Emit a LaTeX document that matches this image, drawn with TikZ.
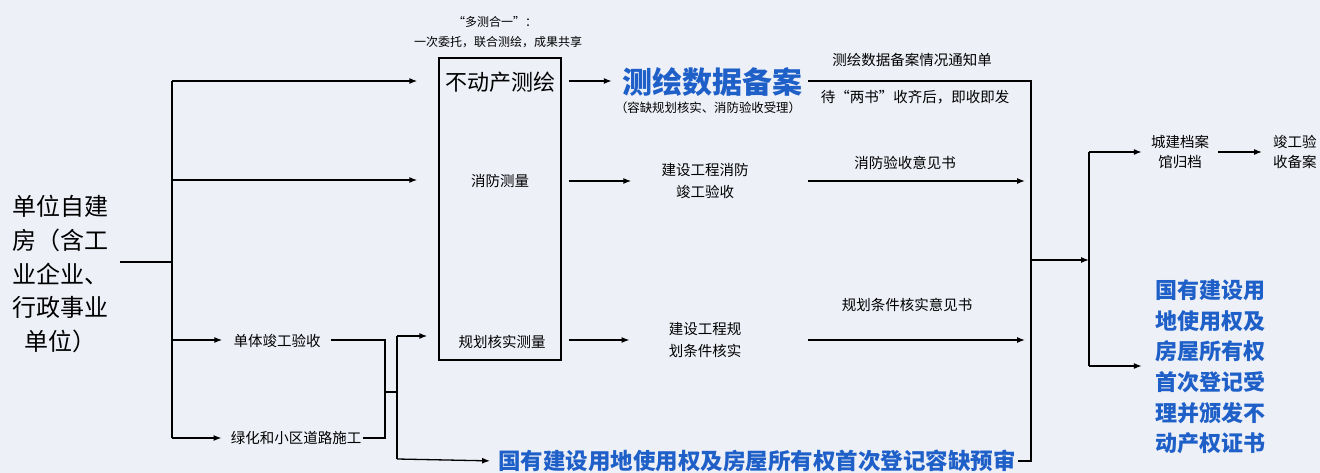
\documentclass[tikz,border=0pt]{standalone}
\usepackage{fontspec}
\setmainfont{Noto Sans CJK SC}
\usepackage{tikz}
\usetikzlibrary{arrows.meta, positioning}
\definecolor{paper}{RGB}{238,240,248}
\definecolor{regblue}{RGB}{30,96,200}

\begin{document}
\begin{tikzpicture}[x=1pt,y=-1pt]
            \useasboundingbox (0,0) rectangle (1320,473);
            \fill[paper] (0,0) rectangle (1320,473);

            \begin{scope}[every node/.style={inner sep=2pt,align=center,font=\fontsize{14.5}{22}\selectfont}]
                \node[align=left, anchor=west, font=\fontsize{24}{33.7}\selectfont] (unit) at (10,274) {单位自建\\房（含工\\业企业、\\行政事业\\\hspace*{12pt}单位）};
                \node[draw, line width=1.3pt, minimum width=122, minimum height=302] (box) at (500,209) {};
                \node[font=\fontsize{22}{26}\selectfont] (chsurv) at (500,82) {不动产测绘};
                \node (xfcl) at (500,181) {消防测量};
                \node (ghcl) at (502,342) {规划核实测量};
                \node[font=\fontsize{12}{16}\selectfont] (duoce) at (495,22) {“多测合一”：};
                \node[font=\fontsize{12}{16}\selectfont] (weituo) at (498,42) {一次委托，联合测绘，成果共享};
                \node[font=\bfseries\fontsize{30}{34}\selectfont, text=regblue] (beian) at (712,82) {测绘数据备案};
                \node[font=\fontsize{12.4}{16}\selectfont] (rongque) at (708,108) {（容缺规划核实、消防验收受理）};
                \node (xfys) at (705,181) {建设工程消防\\竣工验收};
                \node (ghhs) at (705,340) {建设工程规\\划条件核实};
                \node (dtys) at (277,341) {单体竣工验收};
                \node (lhdl) at (296,438) {绿化和小区道路施工};
                \node[font=\bfseries\fontsize{22.5}{26}\selectfont, text=regblue] (yushen) at (757,461) {国有建设用地使用权及房屋所有权首次登记容缺预审};
                \node (tzd) at (912,60) {测绘数据备案情况通知单};
                \node (liangshu) at (915,97) {待“两书”收齐后，即收即发};
                \node (xfyj) at (905,163) {消防验收意见书};
                \node (ghyj) at (907,305) {规划条件核实意见书};
                \node[font=\fontsize{14.5}{20}\selectfont] (cjda) at (1180,152) {城建档案\\馆归档};
                \node[anchor=west, font=\fontsize{14.5}{20}\selectfont] (jgba) at (1271,152) {竣工验\\收备案};
                \node[font=\bfseries\fontsize{22}{30.6}\selectfont, text=regblue] (djfz) at (1210,367) {国有建设用\\地使用权及\\房屋所有权\\首次登记受\\理并颁发不\\动产权证书};
            \end{scope}

            % junctions
            \coordinate (stub) at (120,262);
            \coordinate (tTop) at (172,81);
            \coordinate (tMid) at (172,262);
            \coordinate (tTwo) at (172,180);
            \coordinate (tLow) at (172,340);
            \coordinate (tBot) at (172,438);
            \coordinate (join) at (385,392);
            \coordinate (mg) at (397,392);
            \coordinate (mgT) at (397,336);
            \coordinate (mgB) at (397,459);
            \coordinate (rTop) at (1031,81);
            \coordinate (rMid) at (1031,260);
            \coordinate (rBot) at (1031,461);
            \coordinate (fork) at (1089,260);
            \coordinate (fTop) at (1089,152);
            \coordinate (fBot) at (1089,366);
            \coordinate (xfout) at (808,181);
            \coordinate (ghout) at (808,340);

            \begin{scope}[>={Latex[length=8pt,width=6pt]},
                          every edge/.style={draw=black, line width=1.3pt}]
                \draw[line width=1.3pt] (stub) -- (tMid);
                \draw[line width=1.3pt] (tTop) -- (tBot);
                \path[->] (tTop) edge[shorten >=21pt] (box.west |- tTop);
                \path[->] (tTwo) edge[shorten >=21pt] (box.west |- tTwo);
                \path[->] (tLow) edge[shorten >=9pt] (dtys.west |- tLow);
                \path[->] (tBot) edge[shorten >=7pt] (lhdl.west);
                \draw[line width=1.3pt, shorten <=8pt] (dtys.east |- tLow) -| (join);
                \draw[line width=1.3pt] (lhdl.east) -| (join);
                \draw[line width=1.3pt] (join) -- (mg);
                \draw[line width=1.3pt] (mgT) -- (mgB);
                \path[->] (mgT) edge[shorten >=11pt] (box.west |- mgT);
                \path[->] (mgB) edge[shorten >=6pt] (yushen.west);

                \path[->] (box.east |- tTop) edge[shorten <=7pt, shorten >=8pt] (beian.west |- tTop);
                \path[->] (box.east |- xfcl) edge[shorten <=7pt, shorten >=28pt] (xfys.west);
                \path[->] (box.east |- ghhs) edge[shorten <=7pt, shorten >=37pt] (ghhs.west);
                \draw[line width=1.3pt, shorten <=4pt] (beian.east |- rTop) -- (rTop) -- (rBot) -- (yushen.east);
                \path[->] (xfout) edge[shorten >=6pt] (rTop |- xfout);
                \path[->] (ghout) edge[shorten >=6pt] (rTop |- ghout);

                \path[->] (rMid) edge (fork);
                \draw[line width=1.3pt] (fTop) -- (fBot);
                \path[->] (fTop) edge[shorten >=7pt] (cjda.west);
                \path[->] (cjda.east) edge[shorten <=7pt, shorten >=9pt] (jgba.west);
                \path[->] (fBot) edge[shorten >=11pt] (djfz.west |- fBot);
            \end{scope}

\end{tikzpicture}
\end{document}
